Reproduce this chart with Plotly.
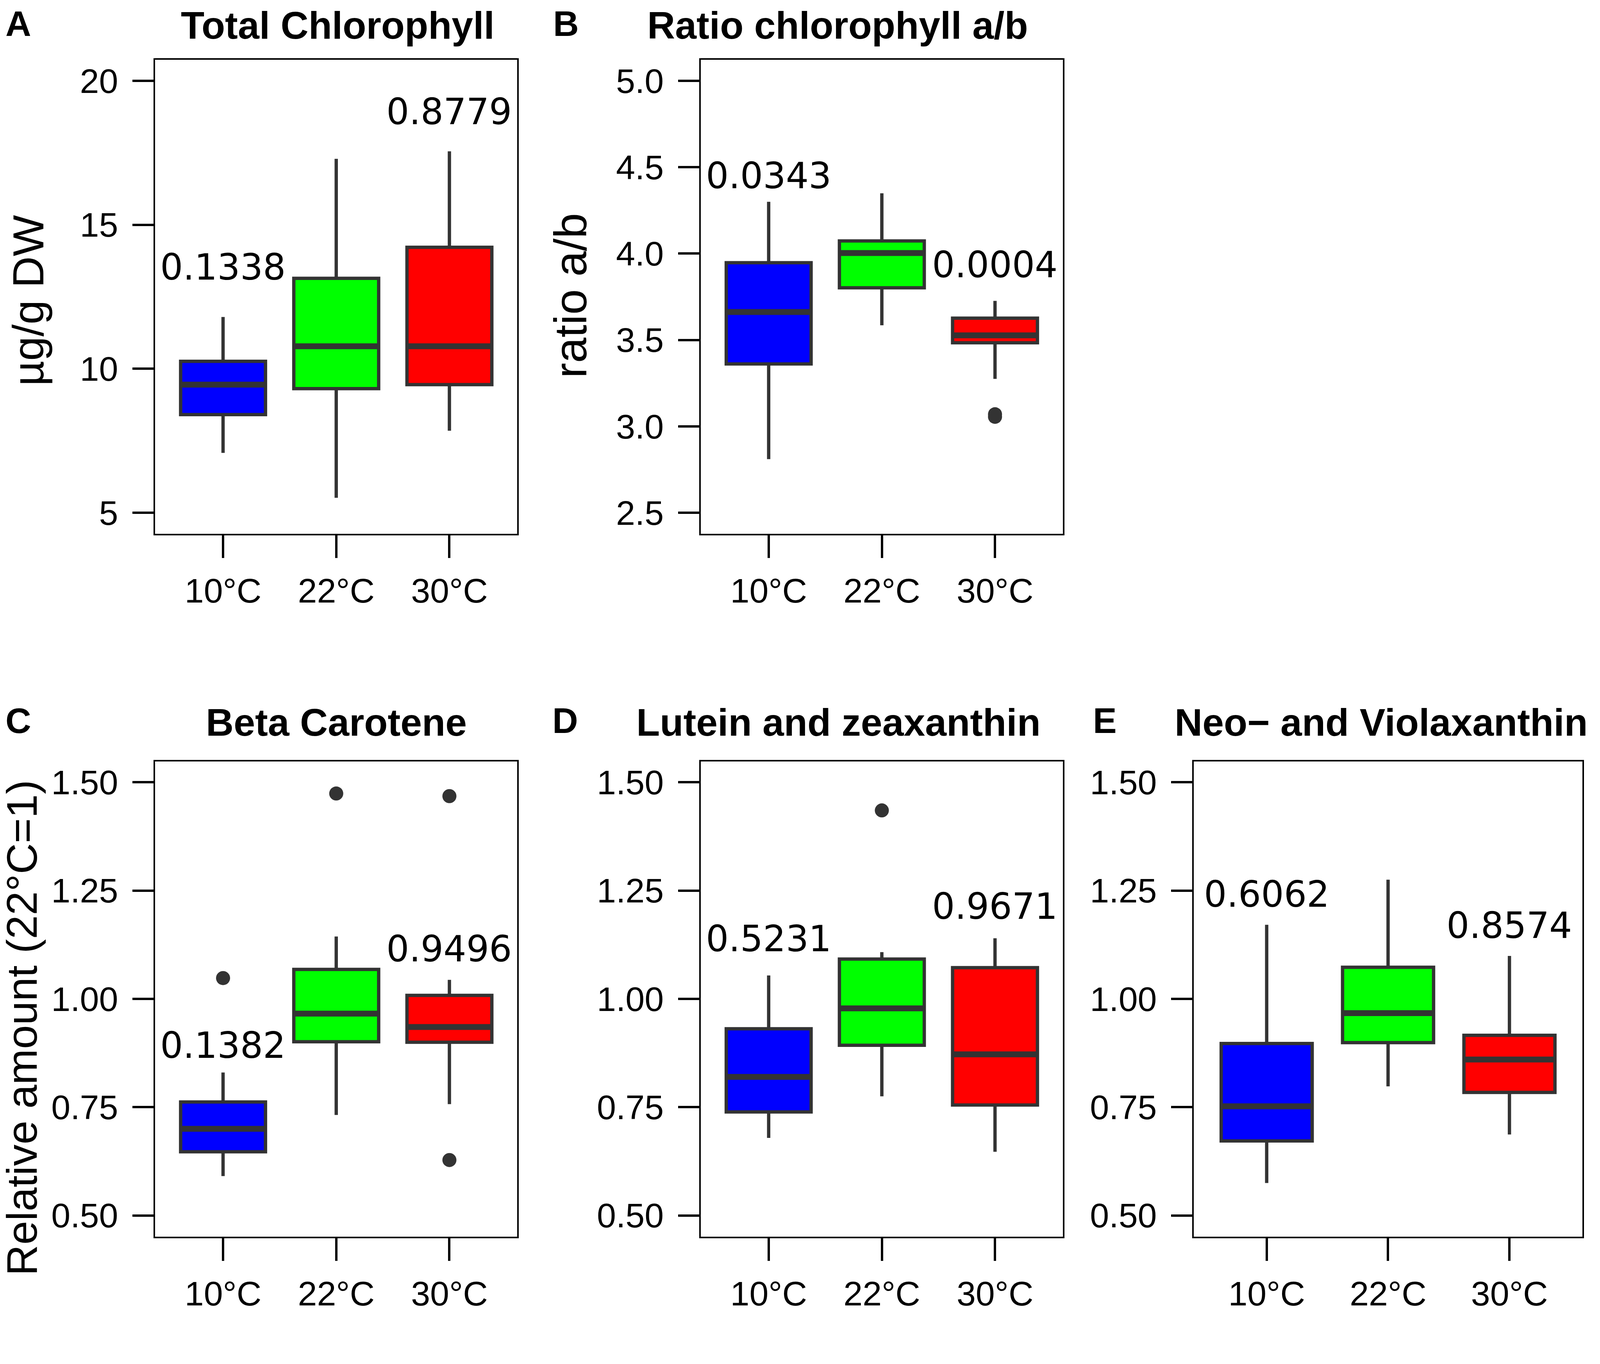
import plotly.graph_objects as go

# reference picture size (px); the page is shown on a 4096 x 3493 css canvas
W, H = 4692, 3493
VW, VH = 4096, 3493
SX, SY = VW / W, VH / H   # css px per reference px, per direction
BODY = 8                  # default page margin (css px)
FW, FH = VW - 2 * BODY, VH - 2 * BODY
FS = 0.91                 # text scale (between the two directions)

groups = ["10°C", "22°C", "30°C"]
box_colors = ["#0000FF", "#00FF00", "#FF0000"]

# A - total chlorophyll (µg/g DW)
tchl_low = [7.08, 5.52, 7.85]
tchl_q1 = [8.41, 9.31, 9.45]
tchl_med = [9.45, 10.78, 10.78]
tchl_q3 = [10.26, 13.14, 14.22]
tchl_high = [11.80, 17.29, 17.55]
tchl_out_grp = []
tchl_out_val = []
tchl_p = ["0.1338", "", "0.8779"]

# B - ratio chlorophyll a/b
ratio_low = [2.81, 3.585, 3.275]
ratio_q1 = [3.361, 3.802, 3.484]
ratio_med = [3.662, 4.003, 3.527]
ratio_q3 = [3.947, 4.073, 3.626]
ratio_high = [4.30, 4.349, 3.726]
ratio_out_grp = ["30°C", "30°C"]
ratio_out_val = [3.07, 3.055]
ratio_p = ["0.0343", "", "0.0004"]

# C - beta carotene (relative, 22°C = 1)
beta_low = [0.591, 0.732, 0.757]
beta_q1 = [0.647, 0.901, 0.900]
beta_med = [0.700, 0.966, 0.935]
beta_q3 = [0.762, 1.068, 1.008]
beta_high = [0.830, 1.144, 1.044]
beta_out_grp = ["10°C", "22°C", "30°C", "30°C"]
beta_out_val = [1.048, 1.474, 1.468, 0.628]
beta_p = ["0.1382", "", "0.9496"]

# D - lutein and zeaxanthin
lut_low = [0.679, 0.775, 0.647]
lut_q1 = [0.739, 0.893, 0.755]
lut_med = [0.820, 0.978, 0.872]
lut_q3 = [0.931, 1.092, 1.072]
lut_high = [1.054, 1.108, 1.140]
lut_out_grp = ["22°C"]
lut_out_val = [1.435]
lut_p = ["0.5231", "", "0.9671"]

# E - neo- and violaxanthin
neo_low = [0.575, 0.798, 0.687]
neo_q1 = [0.672, 0.899, 0.784]
neo_med = [0.752, 0.967, 0.860]
neo_q3 = [0.897, 1.073, 0.916]
neo_high = [1.171, 1.275, 1.099]
neo_out_grp = []
neo_out_val = []
neo_p = ["0.6062", "", "0.8574"]


def px(x):
    # reference px -> paper fraction
    return (x * SX - BODY) / FW


def py(y):
    return 1 - (y * SY - BODY) / FH


# layout of each panel: plot frame in reference px, axis range, label placement
# title/letter y of None -> pinned to the top edge of the page
panels = [
    dict(letter="A", title="Total Chlorophyll",
         stats=(tchl_low, tchl_q1, tchl_med, tchl_q3, tchl_high),
         out=(tchl_out_grp, tchl_out_val), p=tchl_p, p_y=[13.52, None, 18.92],
         frame=(455, 1517, 153, 1367), yrange=[4.27, 20.73],
         yticks=[5, 10, 15, 20], fmt="d",
         title_xy=(990, None, "center"), letter_xy=(54, None)),
    dict(letter="B", title="Ratio chlorophyll a/b",
         stats=(ratio_low, ratio_q1, ratio_med, ratio_q3, ratio_high),
         out=(ratio_out_grp, ratio_out_val), p=ratio_p, p_y=[4.45, None, 3.934],
         frame=(2055, 3117, 153, 1367), yrange=[2.378, 5.122],
         yticks=[2.5, 3.0, 3.5, 4.0, 4.5, 5.0], fmt=".1f",
         title_xy=(2457, None, "center"), letter_xy=(1660, None)),
    dict(letter="C", title="Beta Carotene",
         stats=(beta_low, beta_q1, beta_med, beta_q3, beta_high),
         out=(beta_out_grp, beta_out_val), p=beta_p, p_y=[0.892, None, 1.115],
         frame=(455, 1517, 1950, 3167), yrange=[0.451, 1.548],
         yticks=[0.5, 0.75, 1.0, 1.25, 1.5], fmt=".2f",
         title_xy=(986, 1850, "center"), letter_xy=(54, 1845)),
    dict(letter="D", title="Lutein and zeaxanthin",
         stats=(lut_low, lut_q1, lut_med, lut_q3, lut_high),
         out=(lut_out_grp, lut_out_val), p=lut_p, p_y=[1.138, None, 1.213],
         frame=(2055, 3117, 1950, 3167), yrange=[0.451, 1.548],
         yticks=[0.5, 0.75, 1.0, 1.25, 1.5], fmt=".2f",
         title_xy=(2459, 1850, "center"), letter_xy=(1658, 1845)),
    dict(letter="E", title="Neo\u2212 and Violaxanthin",
         stats=(neo_low, neo_q1, neo_med, neo_q3, neo_high),
         out=(neo_out_grp, neo_out_val), p=neo_p, p_y=[1.241, None, 1.169],
         frame=(3501, 4640, 1950, 3167), yrange=[0.451, 1.548],
         yticks=[0.5, 0.75, 1.0, 1.25, 1.5], fmt=".2f",
         title_xy=(3442, 1850, "left"), letter_xy=(3240, 1845)),
]

y_titles = [
    ("\u00b5g/g DW", 82, 770, 112),
    ("ratio a/b", 1674, 757, 117),
    ("Relative amount (22\u00b0C=1)", 63, 2632, 110),
]

EDGE = "#333333"
BOX_W = 0.75
ARIAL = "Liberation Sans, Arial, sans-serif"
TICK_FONT = dict(family=ARIAL, size=88, color="black")
P_FONT = dict(family="DejaVu Sans, Verdana, sans-serif", size=101 * FS, color="black")

fig = go.Figure()
annotations = []

for k, pn in enumerate(panels, start=1):
    xa = "x" if k == 1 else f"x{k}"
    ya = "y" if k == 1 else f"y{k}"
    low, q1, med, q3, high = pn["stats"]
    for i, g in enumerate(groups):
        fig.add_trace(go.Box(
            x=[i], lowerfence=[low[i]], q1=[q1[i]], median=[med[i]],
            q3=[q3[i]], upperfence=[high[i]],
            width=BOX_W, whiskerwidth=0, fillcolor=box_colors[i],
            line=dict(color=EDGE, width=8.5), boxpoints=False,
            showlegend=False, hoverinfo="skip", xaxis=xa, yaxis=ya,
        ))
    # thicker median bars
    mx, my = [], []
    for i in range(len(groups)):
        mx += [i - BOX_W / 2 + 0.012, i + BOX_W / 2 - 0.012, None]
        my += [med[i], med[i], None]
    fig.add_trace(go.Scatter(x=mx, y=my, mode="lines",
                             line=dict(color=EDGE, width=15),
                             showlegend=False, hoverinfo="skip",
                             xaxis=xa, yaxis=ya))
    og, ov = pn["out"]
    if og:
        fig.add_trace(go.Scatter(
            x=[groups.index(g) for g in og], y=ov, mode="markers",
            marker=dict(color=EDGE, size=36), showlegend=False,
            hoverinfo="skip", xaxis=xa, yaxis=ya))

    x0, x1, y0, y1 = pn["frame"]
    axis_common = dict(showgrid=False, zeroline=False, showline=True,
                       mirror=True, linecolor="black", linewidth=4,
                       ticks="outside", tickcolor="black", tickwidth=6,
                       tickfont=TICK_FONT)
    fig.update_layout(**{
        ("xaxis" if k == 1 else f"xaxis{k}"): dict(
            domain=[px(x0), px(x1)], anchor=ya, range=[-0.6, 2.6],
            tickvals=[0, 1, 2], ticktext=groups, ticklen=58 * SY,
            ticklabelstandoff=8, **axis_common),
        ("yaxis" if k == 1 else f"yaxis{k}"): dict(
            domain=[py(y1), py(y0)], anchor=xa, range=pn["yrange"],
            tickvals=pn["yticks"], tickformat=pn["fmt"], ticklen=62 * SX,
            ticklabelstandoff=round(22 * SX), **axis_common),
    })

    for i, txt in enumerate(pn["p"]):
        if txt:
            annotations.append(dict(x=i, y=pn["p_y"][i], xref=xa, yref=ya,
                                    text=txt, showarrow=False, font=P_FONT,
                                    xanchor="center", yanchor="middle"))
    tx, ty, tanchor = pn["title_xy"]
    annotations.append(dict(x=px(tx), y=1 if ty is None else py(ty),
                            xref="paper", yref="paper",
                            text=f"<b>{pn['title']}</b>", showarrow=False,
                            font=dict(family=ARIAL, size=112 * 0.88, color="black"),
                            xanchor=tanchor,
                            yanchor="top" if ty is None else "middle"))
    lx, ly = pn["letter_xy"]
    annotations.append(dict(x=px(lx), y=1 if ly is None else py(ly),
                            xref="paper", yref="paper",
                            text=f"<b>{pn['letter']}</b>", showarrow=False,
                            font=dict(family=ARIAL, size=100 * FS, color="black"),
                            xanchor="center",
                            yanchor="top" if ly is None else "middle"))

for txt, tx, ty, fs in y_titles:
    annotations.append(dict(x=px(tx), y=py(ty), xref="paper", yref="paper",
                            text=txt, textangle=-90, showarrow=False,
                            font=dict(family=ARIAL, size=fs, color="black"),
                            xanchor="center", yanchor="middle"))

fig.update_layout(
    width=FW, height=FH, autosize=False,
    margin=dict(l=0, r=0, t=0, b=0, pad=0),
    paper_bgcolor="white", plot_bgcolor="white",
    annotations=annotations,
)

fig.write_html("out.html")
